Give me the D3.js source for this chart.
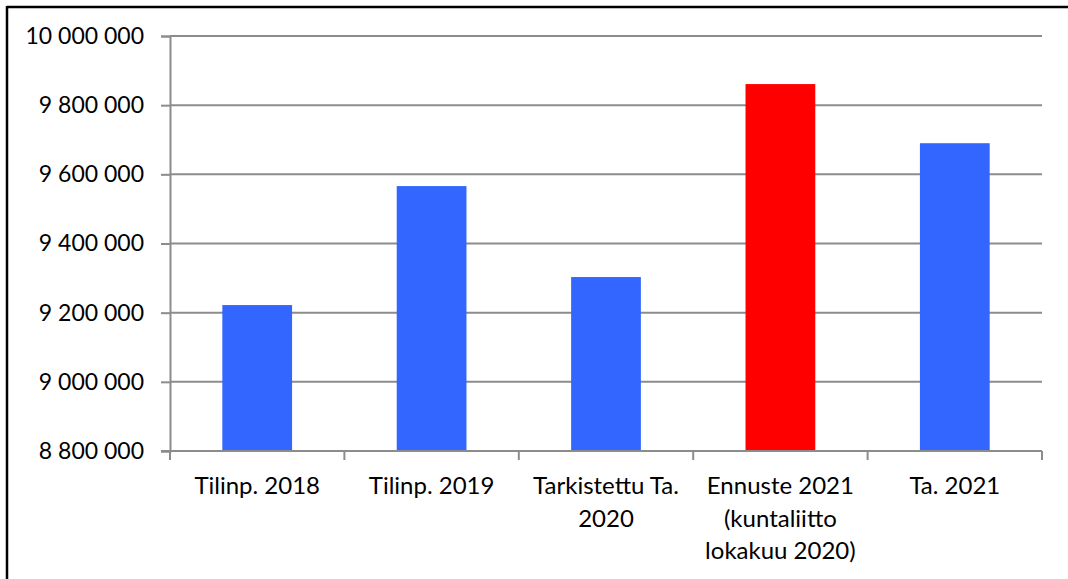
<!DOCTYPE html>
<html><head><meta charset="utf-8">
<script src="https://cdn.jsdelivr.net/npm/d3@7"></script>
<style>html,body{margin:0;padding:0;background:#fff;}svg{display:block;}</style>
</head><body>
<script>
const categories = [
  ["Tilinp. 2018"],
  ["Tilinp. 2019"],
  ["Tarkistettu Ta.", "2020"],
  ["Ennuste 2021", "(kuntaliitto", "lokakuu 2020)"],
  ["Ta. 2021"]
];
const values = [9222000, 9566000, 9303000, 9861000, 9690000];
const colors = ["#3366ff", "#3366ff", "#3366ff", "#ff0000", "#3366ff"];
const yTicks = [8800000, 9000000, 9200000, 9400000, 9600000, 9800000, 10000000];

(function () {
const W = 1068, H = 579;
const svg = d3.select("body").append("svg").attr("width", W).attr("height", H);
const font = "Lato, 'Open Sans', sans-serif";

// frame (top and left visible)
svg.append("line").attr("x1", 7).attr("x2", W).attr("y1", 7).attr("y2", 7).attr("stroke", "#000").attr("stroke-width", 2.5);
svg.append("line").attr("x1", 7).attr("x2", 7).attr("y1", 6).attr("y2", H).attr("stroke", "#000").attr("stroke-width", 2.5);

const pL = 170, pR = 1042, pT = 36, pB = 451;
const x = d3.scaleBand().domain(d3.range(categories.length)).range([pL, pR]).paddingInner(0.6).paddingOuter(0.3);
const xb = d3.scaleBand().domain(d3.range(categories.length)).range([pL, pR]);
const y = d3.scaleLinear().domain([8800000, 10000000]).range([pB, pT]);

const fmt = v => d3.format(",")(v).replace(/,/g, " ");

// gridlines
svg.append("g").selectAll("line").data(yTicks.slice(1)).join("line")
  .attr("x1", pL).attr("x2", pR)
  .attr("y1", d => y(d)).attr("y2", d => y(d))
  .attr("stroke", "#8c8c8c").attr("stroke-width", 2);

// bars
svg.append("g").selectAll("rect").data(values).join("rect")
  .attr("x", (d, i) => x(i)).attr("width", x.bandwidth())
  .attr("y", d => y(d)).attr("height", d => y(8800000) - y(d))
  .attr("fill", (d, i) => colors[i]);

// y axis
const yAxis = d3.axisLeft(y).tickValues(yTicks).tickFormat(fmt).tickSize(9).tickPadding(17);
const gy = svg.append("g").attr("transform", `translate(${pL},0)`).call(yAxis);
gy.select(".domain").attr("stroke", "#8c8c8c").attr("stroke-width", 2);
gy.selectAll(".tick line").attr("stroke", "#8c8c8c").attr("stroke-width", 2);
gy.selectAll(".tick text").attr("font-family", font).attr("font-size", 23).attr("fill", "#000");

// x axis
const gx = svg.append("g").attr("transform", `translate(0,${pB})`);
gx.append("line").attr("x1", pL - 9).attr("x2", pR).attr("y1", 0).attr("y2", 0).attr("stroke", "#8c8c8c").attr("stroke-width", 2);
const bounds = d3.range(categories.length + 1).map(i => i < categories.length ? xb(i) : pR);
gx.selectAll("line.t").data(bounds).join("line").attr("class", "t")
  .attr("x1", d => d).attr("x2", d => d).attr("y1", 0).attr("y2", 9)
  .attr("stroke", "#8c8c8c").attr("stroke-width", 2);

const labels = gx.selectAll("text").data(categories).join("text")
  .attr("font-family", font).attr("font-size", 24).attr("fill", "#000")
  .attr("text-anchor", "middle")
  .attr("transform", (d, i) => `translate(${x(i) + x.bandwidth() / 2},0)`);
labels.selectAll("tspan").data(d => d).join("tspan")
  .attr("x", 0).attr("y", (d, j) => 43 + j * 32.5).text(d => d);
})();
</script>
</body></html>
